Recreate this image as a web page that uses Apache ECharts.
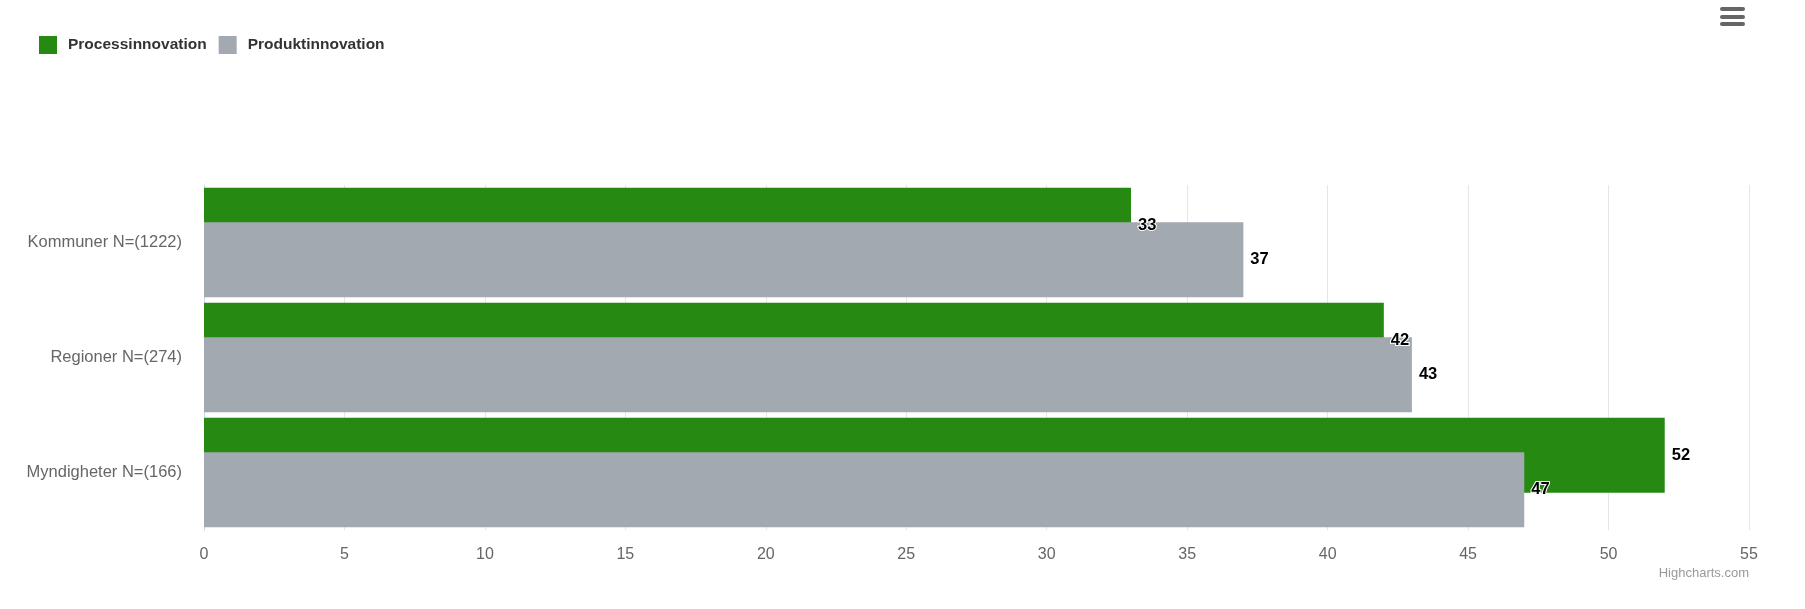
<!DOCTYPE html>
<html>
<head>
<meta charset="utf-8">
<script src="https://cdn.jsdelivr.net/npm/echarts@6/dist/echarts.min.js"></script>
<style>
html,body{margin:0;padding:0;background:#fff;}
#chart{width:1805px;height:609px;}
</style>
</head>
<body>
<div id="chart"></div>
<script>
const categories = ['Kommuner N=(1222)', 'Regioner N=(274)', 'Myndigheter N=(166)'];
const seriesNames = ['Processinnovation', 'Produktinnovation'];
const processValues = [33, 42, 52];
const produktValues = [37, 43, 47];
const xTicks = {min: 0, max: 55, interval: 5};

const FONT = '"Liberation Sans", Arial, sans-serif';
const chart = echarts.init(document.getElementById('chart'), null, {renderer: 'canvas'});

const labelStyle = {
  show: true,
  position: 'right',
  distance: 7,
  color: '#000',
  fontFamily: FONT,
  fontSize: 16.5,
  fontWeight: 'bold',
  textBorderColor: '#fff',
  textBorderWidth: 2,
  padding: [3, 0, 0, 0]
};

chart.setOption({
  animation: false,
  legend: {
    left: 39,
    top: 36,
    padding: 0,
    itemWidth: 18,
    itemHeight: 18,
    itemGap: 12,
    icon: 'rect',
    data: seriesNames,
    textStyle: {
      color: '#333',
      fontFamily: FONT,
      fontSize: 15.5,
      fontWeight: 'bold',
      padding: [0, 0, 0, 6]
    }
  },
  grid: {left: 204, right: 56, top: 185, bottom: 79, containLabel: false},
  xAxis: {
    type: 'value',
    min: xTicks.min,
    max: xTicks.max,
    interval: xTicks.interval,
    axisLine: {show: false},
    axisTick: {show: false},
    splitLine: {show: true, lineStyle: {color: '#e6e6e6', width: 1}},
    axisLabel: {color: '#666', fontFamily: FONT, fontSize: 16, margin: 17}
  },
  yAxis: {
    type: 'category',
    inverse: true,
    data: categories,
    axisLine: {show: true, lineStyle: {color: '#ccd6eb', width: 1}},
    axisTick: {show: false},
    axisLabel: {color: '#666', fontFamily: FONT, fontSize: 16.5, margin: 22, padding: [9, 0, 0, 0]}
  },
  series: [
    {
      name: seriesNames[0],
      type: 'bar',
      data: processValues,
      barWidth: 75,
      barGap: '-54%',
      itemStyle: {color: '#268912'},
      label: labelStyle
    },
    {
      name: seriesNames[1],
      type: 'bar',
      data: produktValues,
      barWidth: 75,
      barGap: '-54%',
      itemStyle: {color: '#a3a9b0'},
      label: labelStyle
    }
  ],
  graphic: [
    {type: 'rect', left: 1720, top: 7, shape: {width: 25, height: 4, r: 2}, style: {fill: '#666'}},
    {type: 'rect', left: 1720, top: 15, shape: {width: 25, height: 4, r: 2}, style: {fill: '#666'}},
    {type: 'rect', left: 1720, top: 22, shape: {width: 25, height: 4, r: 2}, style: {fill: '#666'}},
    {type: 'text', right: 56, top: 567, style: {text: 'Highcharts.com', fill: '#999', font: '13px ' + FONT}}
  ]
});
</script>
</body>
</html>
